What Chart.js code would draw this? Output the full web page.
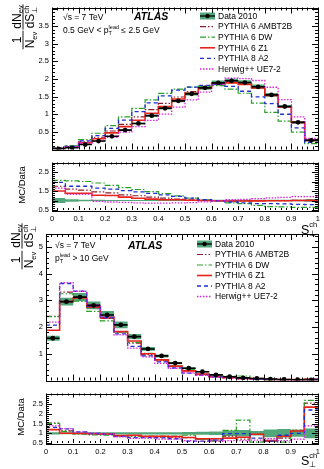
<!DOCTYPE html>
<html>
<head>
<meta charset="utf-8">
<script src="https://cdn.jsdelivr.net/npm/chart.js@4.4.1/dist/chart.umd.min.js"></script>
<style>
  html, body { margin: 0; padding: 0; background: #fff; }
  #wrap { position: relative; width: 324px; height: 469px; overflow: hidden; }
  canvas { position: absolute; left: 0; }
</style>
</head>
<body>
<div id="wrap">
  <canvas id="topMain" width="324" height="157" style="top:0px"></canvas>
  <canvas id="topRatio" width="324" height="85" style="top:155px"></canvas>
  <canvas id="botMain" width="324" height="170" style="top:218px"></canvas>
  <canvas id="botRatio" width="324" height="83" style="top:386px"></canvas>
</div>
<script>
const FONT = '"Liberation Sans", "DejaVu Sans", Arial, sans-serif';
const BAND = "rgba(38, 145, 88, 0.8)";

// S_perp^ch bins
const binEdges = [0, 0.05, 0.1, 0.15, 0.2, 0.25, 0.3, 0.35, 0.4, 0.45, 0.5,
                  0.55, 0.6, 0.65, 0.7, 0.75, 0.8, 0.85, 0.9, 0.95, 1];
const xTickValues = [0, 0.1, 0.2, 0.3, 0.4, 0.5, 0.6, 0.7, 0.8, 0.9, 1];
const xTickLabels = ["0", "0.1", "0.2", "0.3", "0.4", "0.5", "0.6", "0.7", "0.8", "0.9", "1"];

const seriesNames = ["Data 2010", "PYTHIA 6 AMBT2B", "PYTHIA 6 DW", "PYTHIA 6 Z1", "PYTHIA 8 A2", "Herwig++ UE7-2"];

// 0.5 GeV < pT(lead) <= 2.5 GeV
const lowData = [0.02, 0.05, 0.14, 0.24, 0.375, 0.55, 0.74, 0.96, 1.17, 1.38,
                 1.58, 1.75, 1.89, 1.95, 1.90, 1.78, 1.55, 1.22, 0.77, 0.26];
const lowErr = [0.13, 0.06, 0.04, 0.035, 0.03, 0.03, 0.03, 0.03, 0.03, 0.03,
                0.03, 0.03, 0.035, 0.035, 0.035, 0.035, 0.035, 0.035, 0.04, 0.06];
// MC / Data
const lowAMBT2B = [1.75, 1.6, 1.55, 1.45, 1.4, 1.3, 1.25, 1.18, 1.12, 1.08,
                   1.04, 1.01, 0.99, 0.98, 0.98, 0.99, 1.0, 1.0, 1.01, 1.02];
const lowDW = [2.06, 2.03, 2.0, 1.92, 1.8, 1.68, 1.58, 1.47, 1.36, 1.24,
               1.12, 1.03, 0.96, 0.88, 0.84, 0.74, 0.68, 0.66, 0.64, 0.64];
const lowZ1 = [1.5, 1.38, 1.38, 1.28, 1.26, 1.18, 1.12, 1.07, 1.04, 1.04,
               1.01, 1.0, 0.99, 0.97, 0.97, 0.98, 0.99, 0.99, 1.0, 1.0];
const lowA2 = [1.95, 1.75, 1.75, 1.65, 1.6, 1.52, 1.45, 1.38, 1.3, 1.22,
               1.12, 1.04, 0.98, 0.92, 0.87, 0.84, 0.84, 0.82, 0.8, 0.78];
const lowHerwig = [1.65, 1.32, 1.32, 0.95, 0.92, 0.9, 0.88, 0.86, 0.86, 0.87,
                   0.89, 0.93, 0.98, 1.04, 1.06, 1.1, 1.14, 1.16, 1.2, 1.2];
const lowYTicks = [0.5, 1, 1.5, 2, 2.5, 3, 3.5];
const lowYLabels = ["0.5", "1", "1.5", "2", "2.5", "3", "3.5"];

// pT(lead) > 10 GeV
const highData = [1.58, 2.95, 3.12, 2.81, 2.45, 2.08, 1.64, 1.18, 0.92, 0.65,
                  0.46, 0.33, 0.21, 0.14, 0.10, 0.075, 0.055, 0.04, 0.03, 0.02];
const highErr = [0.06, 0.05, 0.05, 0.05, 0.06, 0.06, 0.06, 0.06, 0.06, 0.06,
                 0.07, 0.08, 0.09, 0.15, 0.17, 0.12, 0.2, 0.22, 0.18, 0.25];
const highAMBT2B = [1.52, 1.12, 1.0, 0.97, 0.95, 0.87, 0.85, 0.82, 0.8, 0.8,
                    0.78, 0.7, 0.65, 0.85, 0.7, 0.95, 0.58, 0.75, 1.15, 2.55];
const highDW = [1.51, 1.1, 0.95, 0.92, 0.91, 0.87, 0.87, 0.86, 0.85, 0.85,
                0.9, 0.68, 0.6, 1.15, 1.68, 0.55, 0.6, 0.55, 1.15, 2.7];
const highZ1 = [1.19, 1.0, 0.99, 0.98, 0.96, 0.88, 0.9, 0.85, 0.84, 0.83,
                0.78, 0.72, 0.72, 0.75, 0.8, 0.95, 0.62, 0.85, 1.12, 2.35];
const highA2 = [1.31, 1.23, 1.07, 0.99, 0.96, 0.84, 0.78, 0.78, 0.76, 0.72,
                0.6, 0.6, 0.65, 0.98, 0.98, 0.75, 0.6, 0.9, 1.0, 2.2];
const highHerwig = [1.38, 1.24, 1.07, 1.01, 0.97, 0.82, 0.74, 0.75, 0.7, 0.7,
                    0.62, 0.58, 0.6, 0.62, 0.62, 0.65, 0.72, 0.62, 0.7, 1.38];
const highYTicks = [1, 2, 3, 4, 5];
const highYLabels = ["1", "2", "3", "4", "5"];

const ratioYTicks = [0.5, 1, 1.5, 2, 2.5];
const ratioYLabels = ["0.5", "1", "1.5", "2", "2.5"];

const mcStyles = [
  { color: "#8a1c30", dash: [6, 2, 1.5, 2, 1.5, 2], width: 1.2 },
  { color: "#2aa02a", dash: [6, 2, 1.5, 2], width: 1.2 },
  { color: "#e8231c", dash: [], width: 1.6 },
  { color: "#1f2fd0", dash: [4, 3], width: 1.3 },
  { color: "#e020e0", dash: [1.5, 1.5], width: 1.3 },
];

// histogram outline: one point per bin edge, flat across each bin
function stepPoints(vals) {
  const pts = vals.map((v, i) => ({ x: binEdges[i], y: v }));
  pts.push({ x: binEdges[vals.length], y: vals[vals.length - 1] });
  return pts;
}

// one horizontal segment per bin, broken in between
function barPoints(vals) {
  const pts = [];
  vals.forEach((v, i) => {
    pts.push({ x: binEdges[i], y: v }, { x: binEdges[i + 1], y: v }, { x: binEdges[i + 1], y: null });
  });
  return pts;
}

function bandSets(hi, lo) {
  return [
    { data: stepPoints(hi), stepped: "before", borderWidth: 0, pointRadius: 0,
      backgroundColor: BAND, fill: "+1", order: 30 },
    { data: stepPoints(lo), stepped: "before", borderWidth: 0, pointRadius: 0,
      fill: false, order: 31 },
  ];
}

function mcSets(curves) {
  return curves.map((vals, k) => ({
    data: stepPoints(vals), stepped: "before", pointRadius: 0, fill: false,
    borderColor: mcStyles[k].color, borderDash: mcStyles[k].dash,
    borderWidth: mcStyles[k].width, order: 20 - k,
  }));
}

function mainDatasets(data, err, ratios) {
  const sets = bandSets(
    data.map((v, i) => v * (1 + err[i])),
    data.map((v, i) => v * (1 - err[i]))
  );
  sets.push(...mcSets(ratios.map((r) => data.map((v, i) => v * r[i]))));
  sets.push({ data: barPoints(data), borderColor: "#000", borderWidth: 1.6,
              pointRadius: 0, fill: false, spanGaps: false, order: 2 });
  sets.push({ data: data.map((v, i) => ({ x: (binEdges[i] + binEdges[i + 1]) / 2, y: v })),
              showLine: false, pointRadius: 2.4, pointBackgroundColor: "#000",
              pointBorderWidth: 0, order: 1 });
  return sets;
}

function ratioDatasets(err, ratios) {
  const sets = bandSets(err.map((e) => 1 + e), err.map((e) => 1 - e));
  sets.push(...mcSets(ratios));
  return sets;
}

// ---------- text helpers ----------
function richWidth(ctx, parts) {
  let w = 0, held = 0;
  parts.forEach((p) => {
    ctx.font = (p.style || "") + " " + p.size + "px " + FONT;
    const pw = ctx.measureText(p.t).width;
    if (p.hold) { held = Math.max(held, pw); }
    else { w += Math.max(pw, held); held = 0; }
  });
  return w + held;
}

function richText(ctx, x, y, parts) {
  let cx = x, held = 0;
  parts.forEach((p) => {
    ctx.font = (p.style || "") + " " + p.size + "px " + FONT;
    ctx.fillText(p.t, cx, y + (p.dy || 0));
    const pw = ctx.measureText(p.t).width;
    if (p.hold) { held = Math.max(held, pw); }
    else { cx += Math.max(pw, held); held = 0; }
  });
}

function rotatedText(ctx, cx, cy, parts) {
  ctx.save();
  ctx.translate(cx, cy);
  ctx.rotate(-Math.PI / 2);
  ctx.textBaseline = "middle";
  richText(ctx, -richWidth(ctx, parts) / 2, 0, parts);
  ctx.restore();
}

function fraction(ctx, cx, cy, num, den) {
  ctx.save();
  ctx.translate(cx, cy);
  ctx.rotate(-Math.PI / 2);
  ctx.textBaseline = "alphabetic";
  const wn = richWidth(ctx, num), wd = richWidth(ctx, den);
  const len = Math.max(wn, wd) + 2;
  ctx.strokeStyle = "#000";
  ctx.lineWidth = 0.9;
  ctx.beginPath();
  ctx.moveTo(-len / 2, 0);
  ctx.lineTo(len / 2, 0);
  ctx.stroke();
  richText(ctx, -wn / 2, -2.5, num);
  richText(ctx, -wd / 2, 11, den);
  ctx.restore();
}

function yTitle(ctx, barX, yUpper, yLower) {
  fraction(ctx, barX, yLower, [{ t: "1", size: 12 }],
           [{ t: "N", size: 12 }, { t: "ev", size: 7.5, dy: 2.5 }]);
  fraction(ctx, barX, yUpper,
           [{ t: "dN", size: 12 }, { t: "ev", size: 7.5, dy: 2.5 }],
           [{ t: "dS", size: 12 }, { t: "⊥", size: 7.5, dy: 3, hold: true }, { t: "ch", size: 7.5, dy: -5 }]);
}

function xTitle(ctx, x, y) {
  ctx.textBaseline = "alphabetic";
  richText(ctx, x, y, [{ t: "S", size: 12.5 }, { t: "⊥", size: 8, dy: 2, hold: true }, { t: "ch", size: 7.5, dy: -7 }]);
}

function drawLegend(ctx, x, y0, dy) {
  ctx.save();
  ctx.textBaseline = "middle";
  seriesNames.forEach((name, i) => {
    const y = y0 + i * dy;
    if (i === 0) {
      ctx.fillStyle = BAND;
      ctx.fillRect(x, y - 3.5, 15, 7);
      ctx.strokeStyle = "#000";
      ctx.lineWidth = 1.3;
      ctx.setLineDash([]);
      ctx.beginPath(); ctx.moveTo(x, y); ctx.lineTo(x + 15, y); ctx.stroke();
      ctx.fillStyle = "#000";
      ctx.beginPath(); ctx.arc(x + 7.5, y, 2.2, 0, Math.PI * 2); ctx.fill();
    } else {
      const s = mcStyles[i - 1];
      ctx.strokeStyle = s.color;
      ctx.lineWidth = s.width;
      ctx.setLineDash(s.dash);
      ctx.beginPath(); ctx.moveTo(x, y); ctx.lineTo(x + 15, y); ctx.stroke();
      ctx.setLineDash([]);
    }
    ctx.fillStyle = "#000";
    ctx.font = "8.5px " + FONT;
    ctx.fillText(name, x + 18, y + 0.5);
  });
  ctx.restore();
}

// ---------- per-panel decorations ----------
const extras = {
  topMain(ctx) {
    ctx.fillStyle = "#000";
    ctx.textBaseline = "alphabetic";
    richText(ctx, 63, 19.5, [{ t: "√s = 7 TeV", size: 8.5 }]);
    richText(ctx, 134, 20, [{ t: "ATLAS", size: 10.5, style: "italic bold" }]);
    richText(ctx, 63, 32.5, [{ t: "0.5 GeV < p", size: 8.5 }, { t: "T", size: 5.5, dy: 2, hold: true },
                             { t: "lead", size: 5.5, dy: -4 }, { t: " ≤ 2.5 GeV", size: 8.5 }]);
    drawLegend(ctx, 200, 16, 10.6);
    yTitle(ctx, 23, 17, 40);
  },
  topRatio(ctx) {
    ctx.fillStyle = "#000";
    rotatedText(ctx, 22, 30, [{ t: "MC/Data", size: 9.5 }]);
    xTitle(ctx, 301, 79);
  },
  botMain(ctx) {
    ctx.fillStyle = "#000";
    ctx.textBaseline = "alphabetic";
    richText(ctx, 55, 30, [{ t: "√s = 7 TeV", size: 8.5 }]);
    richText(ctx, 128, 31, [{ t: "ATLAS", size: 10.5, style: "italic bold" }]);
    richText(ctx, 55, 43, [{ t: "p", size: 8.5 }, { t: "T", size: 5.5, dy: 2, hold: true },
                           { t: "lead", size: 5.5, dy: -4 }, { t: " > 10 GeV", size: 8.5 }]);
    drawLegend(ctx, 197, 26, 10.5);
    yTitle(ctx, 22, 18, 42);
  },
  botRatio(ctx) {
    ctx.fillStyle = "#000";
    rotatedText(ctx, 21, 31, [{ t: "MC/Data", size: 9.5 }]);
    xTitle(ctx, 301, 79);
  },
};

function stepsBetween(min, max, step) {
  const out = [];
  for (let k = Math.ceil(min / step - 1e-6); k * step <= max + 1e-9; k++) out.push(k * step);
  return out;
}
function isMultiple(v, s) {
  return Math.abs(v / s - Math.round(v / s)) < 1e-6;
}

// frame with inward major/minor ticks on all four sides
const frame = {
  id: "frame",
  afterDraw(chart) {
    const ctx = chart.ctx, a = chart.chartArea;
    const xs = chart.scales.x, ys = chart.scales.y;
    const f = chart.config.options.frameTicks;
    ctx.save();
    ctx.strokeStyle = "#000";
    ctx.lineWidth = 1;
    ctx.setLineDash([]);
    ctx.strokeRect(Math.round(a.left) + 0.5, Math.round(a.top) + 0.5,
                   Math.round(a.right - a.left), Math.round(a.bottom - a.top));
    ctx.beginPath();
    stepsBetween(0, 1, 0.02).forEach((v) => {
      const len = isMultiple(v, 0.1) ? f.xLen : f.xLen / 2;
      const px = Math.round(xs.getPixelForValue(v)) + 0.5;
      ctx.moveTo(px, a.bottom); ctx.lineTo(px, a.bottom - len);
      ctx.moveTo(px, a.top); ctx.lineTo(px, a.top + len);
    });
    stepsBetween(ys.min, ys.max, f.yMinor).forEach((v) => {
      const len = isMultiple(v, f.yMajor) ? 6 : 3;
      const py = Math.round(ys.getPixelForValue(v)) + 0.5;
      ctx.moveTo(a.left, py); ctx.lineTo(a.left + len, py);
      ctx.moveTo(a.right, py); ctx.lineTo(a.right - len, py);
    });
    ctx.stroke();
    ctx.restore();
    ctx.save();
    extras[chart.canvas.id](ctx);
    ctx.restore();
  },
};

function buildChart(id, cfg) {
  const tickFont = { family: FONT, size: 7.5 };
  return new Chart(document.getElementById(id), {
    type: "line",
    data: { datasets: cfg.datasets },
    plugins: [frame],
    options: {
      responsive: false,
      animation: false,
      events: [],
      frameTicks: cfg.frameTicks,
      layout: { padding: { left: 0, right: 6, top: cfg.padTop, bottom: cfg.padBottom } },
      plugins: { legend: { display: false }, tooltip: { enabled: false } },
      scales: {
        x: {
          type: "linear", min: 0, max: 1,
          display: cfg.showX,
          grid: { display: false, drawTicks: false },
          border: { display: false },
          afterBuildTicks: (s) => { s.ticks = xTickValues.map((v) => ({ value: v })); },
          afterFit: (s) => { s.height = cfg.xHeight || 0; },
          ticks: { autoSkip: false, maxRotation: 0, padding: 4, color: "#000", font: tickFont,
                   callback: (v, i) => xTickLabels[i] },
        },
        y: {
          type: "linear", min: cfg.yMin, max: cfg.yMax,
          grid: { display: false, drawTicks: false },
          border: { display: false },
          afterBuildTicks: (s) => { s.ticks = cfg.yTicks.map((v) => ({ value: v })); },
          afterFit: (s) => { s.width = cfg.yWidth; },
          ticks: { padding: 3, color: "#000", font: tickFont,
                   callback: (v, i) => cfg.yLabels[i] },
        },
      },
    },
  });
}

const lowRatios = [lowAMBT2B, lowDW, lowZ1, lowA2, lowHerwig];
const highRatios = [highAMBT2B, highDW, highZ1, highA2, highHerwig];

buildChart("topMain", {
  datasets: mainDatasets(lowData, lowErr, lowRatios),
  yMin: 0, yMax: 4.03, yTicks: lowYTicks, yLabels: lowYLabels, yWidth: 52,
  padTop: 5, padBottom: 3, showX: false,
  frameTicks: { xLen: 6, yMajor: 0.5, yMinor: 0.1 },
});
buildChart("topRatio", {
  datasets: ratioDatasets(lowErr, lowRatios),
  yMin: 0.5, yMax: 3.0, yTicks: ratioYTicks, yLabels: ratioYLabels, yWidth: 52,
  padTop: 5, padBottom: 0, showX: true, xHeight: 30,
  frameTicks: { xLen: 4, yMajor: 0.5, yMinor: 0.1 },
});
buildChart("botMain", {
  datasets: mainDatasets(highData, highErr, highRatios),
  yMin: 0, yMax: 5.48, yTicks: highYTicks, yLabels: highYLabels, yWidth: 46,
  padTop: 16, padBottom: 3, showX: false,
  frameTicks: { xLen: 6, yMajor: 1, yMinor: 0.2 },
});
buildChart("botRatio", {
  datasets: ratioDatasets(highErr, highRatios),
  yMin: 0.5, yMax: 3.05, yTicks: ratioYTicks, yLabels: ratioYLabels, yWidth: 46,
  padTop: 5, padBottom: 0, showX: true, xHeight: 26,
  frameTicks: { xLen: 4, yMajor: 0.5, yMinor: 0.1 },
});
</script>
</body>
</html>
